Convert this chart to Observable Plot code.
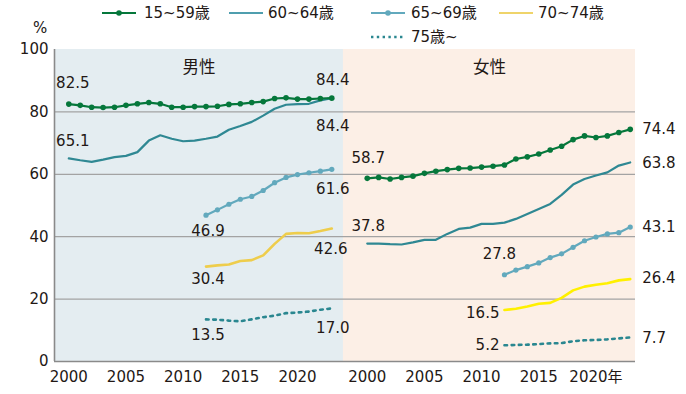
<!DOCTYPE html>
<html>
<head>
<meta charset="utf-8">
<script src="https://cdn.jsdelivr.net/npm/d3@7"></script>
<script src="https://cdn.jsdelivr.net/npm/@observablehq/plot@0.6"></script>
<style>
  html, body { margin: 0; padding: 0; background: #ffffff; }
  #wrap { position: relative; width: 686px; height: 394px; font-family: "DejaVu Sans", "Noto Sans CJK JP", sans-serif; color: #231815; }
  #wrap svg.plot { position: absolute; left: 0; top: 0; }
  .lg { position: absolute; font-size: 15px; line-height: 18px; white-space: nowrap; }
  .sw { position: absolute; }
</style>
</head>
<body>
<div id="wrap"></div>
<script>
// ---------------- data ----------------
const sexes = ["男性", "女性"];
const groups = ["15~59歳", "60~64歳", "65~69歳", "70~74歳", "75歳~"];
const yearsAll = d3.range(2000, 2024);   // 2000-2023
const yearsLate = d3.range(2012, 2024);  // 2012-2023
const xTickYears = [2000, 2005, 2010, 2015, 2020];
const yTicks = [0, 20, 40, 60, 80, 100];
const gridValues = [20, 40, 60, 80];

// 男性
const men_15_59 = [82.5, 82.1, 81.5, 81.4, 81.5, 82.1, 82.6, 83.0, 82.6, 81.5, 81.5, 81.7,
                   81.7, 81.8, 82.4, 82.6, 83.0, 83.3, 84.3, 84.5, 84.1, 84.1, 84.3, 84.4];
const men_60_64 = [65.1, 64.5, 64.0, 64.7, 65.5, 65.9, 67.1, 70.8, 72.5, 71.4, 70.6, 70.8,
                   71.4, 72.1, 74.3, 75.5, 76.8, 78.8, 81.0, 82.3, 82.5, 82.6, 83.7, 84.4];
const men_65_69 = [46.9, 48.6, 50.4, 52.0, 52.9, 54.8, 57.3, 59.0, 59.9, 60.5, 61.0, 61.6];
const men_70_74 = [30.4, 30.8, 31.1, 32.2, 32.5, 34.0, 37.7, 40.9, 41.2, 41.1, 41.8, 42.6];
const men_75 =    [13.5, 13.4, 13.1, 12.9, 13.5, 14.2, 14.7, 15.5, 15.7, 16.0, 16.6, 17.0];

// 女性
const women_15_59 = [58.7, 59.0, 58.5, 59.0, 59.4, 60.3, 61.0, 61.5, 61.9, 62.0, 62.3, 62.6,
                     63.0, 64.9, 65.6, 66.5, 67.8, 69.0, 71.1, 72.3, 71.8, 72.3, 73.4, 74.4];
const women_60_64 = [37.8, 37.8, 37.6, 37.5, 38.2, 39.0, 39.0, 40.9, 42.5, 42.9, 44.1, 44.1,
                     44.5, 45.7, 47.3, 48.9, 50.5, 53.4, 56.7, 58.5, 59.6, 60.6, 62.8, 63.8];
const women_65_69 = [27.8, 29.3, 30.4, 31.6, 33.3, 34.5, 36.6, 38.7, 39.9, 40.9, 41.3, 43.1];
const women_70_74 = [16.5, 16.9, 17.6, 18.5, 18.8, 20.4, 22.8, 24.0, 24.6, 25.1, 26.0, 26.4];
const women_75 =    [5.2, 5.3, 5.4, 5.6, 5.8, 5.9, 6.5, 6.8, 6.9, 7.1, 7.4, 7.7];

// ---------------- layout / style (not data) ----------------
const OFF = 26.1;                 // horizontal shift of the 女性 panel, in year units
const PAD_L = 1.25, PAD_MID = 1.02, PAD_R = 0.46; // panel paddings, year units
const W = 686, H = 394;
const colors = {
  "15~59歳": "#05773b",
  "60~64歳": "#2f8893",
  "65~69歳": "#62a9bd",
  "70~74歳男性": "#eecd4c",
  "70~74歳女性": "#fff000",
  "75歳~": "#2a8790"
};
const panelFill = { "男性": "#e4edf1", "女性": "#fcefe6" };

// ---------------- build rows ----------------
const seriesTable = [
  ["男性", "15~59歳", yearsAll, men_15_59],
  ["男性", "60~64歳", yearsAll, men_60_64],
  ["男性", "65~69歳", yearsLate, men_65_69],
  ["男性", "70~74歳", yearsLate, men_70_74],
  ["男性", "75歳~", yearsLate, men_75],
  ["女性", "15~59歳", yearsAll, women_15_59],
  ["女性", "60~64歳", yearsAll, women_60_64],
  ["女性", "65~69歳", yearsLate, women_65_69],
  ["女性", "70~74歳", yearsLate, women_70_74],
  ["女性", "75歳~", yearsLate, women_75]
];
const offOf = s => (s === "女性" ? OFF : 0);
const rows = [];
for (const [sex, group, yrs, vals] of seriesTable) {
  yrs.forEach((yr, i) => rows.push({ sex, group, year: yr, value: vals[i], pos: yr + offOf(sex) }));
}
const sel = (g) => rows.filter(d => d.group === g);
const firstLast = (sex, group, which) => {
  const r = rows.filter(d => d.sex === sex && d.group === group);
  return which === "first" ? r[0] : r[r.length - 1];
};

const y0 = yearsAll[0], yN = yearsAll[yearsAll.length - 1];
const bMid = yN + PAD_MID;
const panels = [
  { sex: "男性", x1: y0 - PAD_L, x2: bMid },
  { sex: "女性", x1: bMid, x2: yN + OFF + PAD_R }
].map(p => ({ ...p, cx: (p.x1 + p.x2) / 2 }));
const xDomain = [panels[0].x1, panels[1].x2];

// value labels: [sex, group, end, dx, dy, anchor]
const labelSpec = [
  ["男性", "15~59歳", "first", 4, -21, "middle"],
  ["男性", "60~64歳", "first", 4, -17, "middle"],
  ["男性", "15~59歳", "last", 1, -18, "middle"],
  ["男性", "60~64歳", "last", 1, 28, "middle"],
  ["男性", "65~69歳", "last", 1, 20, "middle"],
  ["男性", "65~69歳", "first", 2, 16, "middle"],
  ["男性", "70~74歳", "first", 2, 13, "middle"],
  ["男性", "70~74歳", "last", -1, 21, "middle"],
  ["男性", "75歳~", "first", 2, 16, "middle"],
  ["男性", "75歳~", "last", 1, 20, "middle"],
  ["女性", "15~59歳", "first", 1, -20, "middle"],
  ["女性", "60~64歳", "first", 1, -17, "middle"],
  ["女性", "15~59歳", "last", 12, 0, "start"],
  ["女性", "60~64歳", "last", 12, 1, "start"],
  ["女性", "65~69歳", "last", 12, 0, "start"],
  ["女性", "70~74歳", "last", 12, -1, "start"],
  ["女性", "75歳~", "last", 12, 1, "start"],
  ["女性", "65~69歳", "first", -5, -21, "middle"],
  ["女性", "70~74歳", "first", -5, 3, "end"],
  ["女性", "75歳~", "first", -5, 0, "end"]
];
const labelMarks = labelSpec.map(([sex, group, end, dx, dy, anchor]) =>
  Plot.text([firstLast(sex, group, end)], {
    x: "pos", y: "value", text: d => d.value.toFixed(1),
    dx, dy, textAnchor: anchor, fontSize: 15, fill: "#231815"
  })
);

const xTicks = sexes.flatMap(s => xTickYears.map(y => y + offOf(s)));
const xFmt = (d) => {
  const isW = d > bMid;
  const yr = Math.round(isW ? d - OFF : d);
  return (isW && yr === 2020) ? "2020年" : String(yr);
};

const dotsStyle = { strokeWidth: 2.2, strokeLinejoin: "round", strokeLinecap: "round" };

const chart = Plot.plot({
  width: W, height: H,
  marginLeft: 54, marginRight: 51, marginTop: 49, marginBottom: 33,
  style: { fontFamily: "'DejaVu Sans', 'Noto Sans CJK JP', sans-serif", fontSize: "15px", color: "#231815", background: "transparent" },
  x: { domain: xDomain, ticks: xTicks, tickFormat: xFmt, tickSize: 0, tickPadding: 10, label: null },
  y: { domain: [0, 100], ticks: yTicks, tickSize: 0, tickPadding: 6, label: null },
  marks: [
    Plot.rect(panels, { x1: "x1", x2: "x2", y1: 0, y2: 100, fill: d => panelFill[d.sex] }),
    Plot.ruleY(gridValues, { stroke: "#a3a3a3", strokeWidth: 1.2 }),
    Plot.ruleY([0], { stroke: "#8a8a8a", strokeWidth: 1.4 }),
    Plot.ruleX([xDomain[0]], { y1: 0, y2: 100, stroke: "#8a8a8a", strokeWidth: 1.6 }),
    Plot.text(panels, { x: "cx", y: 100, dy: 18, text: "sex", fontSize: 16.5, fill: "#231815" }),
    // 75歳~ dotted
    Plot.line(sel("75歳~"), { x: "pos", y: "value", z: "sex", stroke: colors["75歳~"], strokeWidth: 2.6, strokeDasharray: "2.6,4.6" }),
    // 70~74
    Plot.line(sel("70~74歳"), { x: "pos", y: "value", z: "sex", stroke: d => colors["70~74歳" + d.sex], strokeWidth: 2.6, strokeLinejoin: "round" }),
    // 65~69
    Plot.line(sel("65~69歳"), { x: "pos", y: "value", z: "sex", stroke: colors["65~69歳"], ...dotsStyle }),
    Plot.dot(sel("65~69歳"), { x: "pos", y: "value", r: 2.6, fill: colors["65~69歳"] }),
    // 60~64
    Plot.line(sel("60~64歳"), { x: "pos", y: "value", z: "sex", stroke: colors["60~64歳"], strokeWidth: 2.2, strokeLinejoin: "round" }),
    // 15~59
    Plot.line(sel("15~59歳"), { x: "pos", y: "value", z: "sex", stroke: colors["15~59歳"], ...dotsStyle }),
    Plot.dot(sel("15~59歳"), { x: "pos", y: "value", r: 2.8, fill: colors["15~59歳"] }),
    ...labelMarks
  ]
});
chart.classList.add("plot");
const wrap = document.getElementById("wrap");
wrap.appendChild(chart);

// ---------------- legend (HTML, above the plot area) ----------------
const legendItems = [
  { g: "15~59歳", kind: "dot", lx: 102, tx: 144, cy: 13, color: colors["15~59歳"] },
  { g: "60~64歳", kind: "line", lx: 229, tx: 268, cy: 13, color: "#4f9eae" },
  { g: "65~69歳", kind: "dot", lx: 371, tx: 411, cy: 13, color: colors["65~69歳"] },
  { g: "70~74歳", kind: "line", lx: 499, tx: 538, cy: 13, color: "#efd46a" },
  { g: "75歳~", kind: "dash", lx: 371, tx: 411, cy: 37, color: colors["75歳~"] }
];
for (const it of legendItems) {
  const w = 34;
  const ns = "http://www.w3.org/2000/svg";
  const s = document.createElementNS(ns, "svg");
  s.setAttribute("class", "sw");
  s.setAttribute("width", w);
  s.setAttribute("height", 10);
  s.style.left = it.lx + "px";
  s.style.top = (it.cy - 5) + "px";
  const ln = document.createElementNS(ns, "line");
  ln.setAttribute("x1", 0); ln.setAttribute("x2", w);
  ln.setAttribute("y1", 5); ln.setAttribute("y2", 5);
  ln.setAttribute("stroke", it.color);
  ln.setAttribute("stroke-width", it.kind === "dash" ? 2.6 : 2.2);
  if (it.kind === "dash") ln.setAttribute("stroke-dasharray", "2.4,3.4");
  s.appendChild(ln);
  if (it.kind === "dot") {
    const c = document.createElementNS(ns, "circle");
    c.setAttribute("cx", w / 2); c.setAttribute("cy", 5); c.setAttribute("r", 2.8);
    c.setAttribute("fill", it.color);
    s.appendChild(c);
  }
  wrap.appendChild(s);
  const t = document.createElement("div");
  t.className = "lg";
  t.textContent = it.g;
  t.style.left = it.tx + "px";
  t.style.top = (it.cy - 9) + "px";
  wrap.appendChild(t);
}
const pct = document.createElement("div");
pct.className = "lg";
pct.textContent = "%";
pct.style.left = "33px";
pct.style.top = "19px";
wrap.appendChild(pct);
</script>
</body>
</html>
